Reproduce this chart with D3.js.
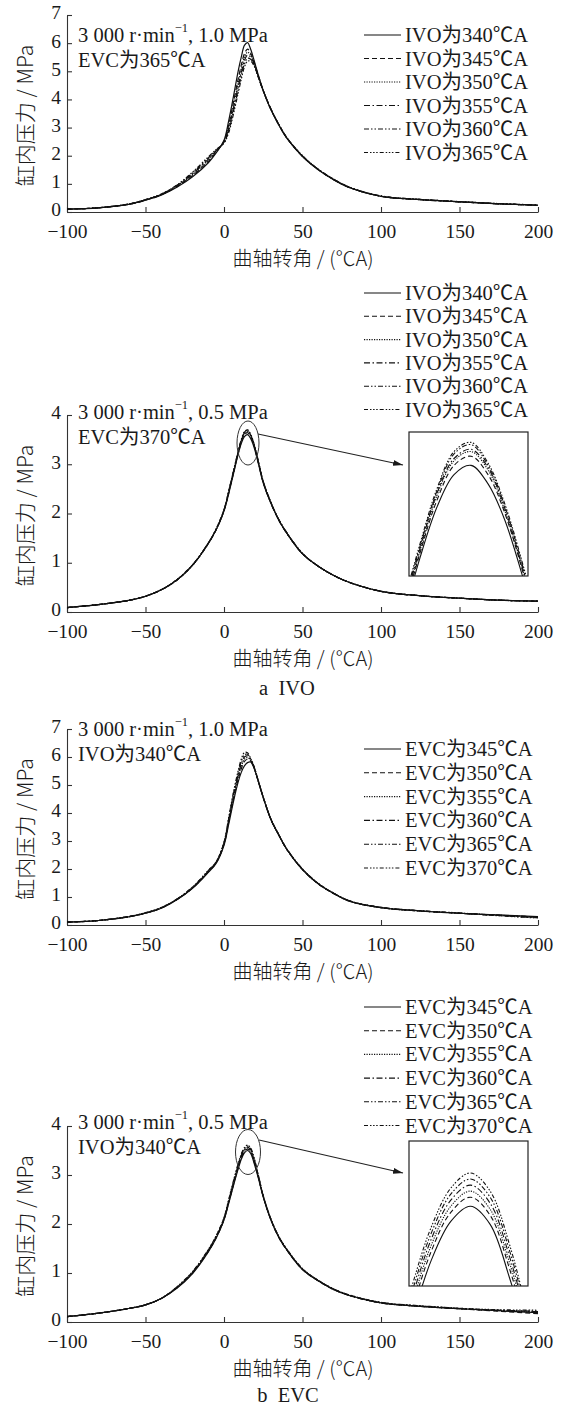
<!DOCTYPE html>
<html><head><meta charset="utf-8">
<script src="https://cdn.jsdelivr.net/npm/d3@7"></script>
<style>
html,body{margin:0;padding:0;background:#fff;}
svg{display:block;}
text{font-family:"Liberation Serif","Noto Sans CJK SC",serif;fill:#1a1a1a;}
</style></head><body>
<svg id="chart" width="562" height="1411"></svg>
<script>
// Crank angle grid (°CA) shared by every pressure trace
const crankAngle = [-100,-80,-60,-50,-40,-30,-20,-10,-5,0,3,6,9,11,13,15,17,19,22,25,30,35,40,50,60,70,80,100,125,150,175,200];

// (a) IVO sweep, 3000 r/min, 1.0 MPa, EVC = 365°CA
const ivoHigh340 = [0.10,0.15,0.28,0.42,0.60,0.88,1.25,1.75,2.10,2.55,3.25,4.10,5.00,5.50,5.92,6.02,5.78,5.42,4.84,4.32,3.62,3.08,2.62,1.97,1.50,1.14,0.86,0.55,0.44,0.36,0.29,0.24];
const ivoHigh345 = [0.10,0.15,0.28,0.42,0.61,0.90,1.30,1.80,2.13,2.52,3.10,3.90,4.72,5.22,5.62,5.79,5.64,5.35,4.82,4.32,3.63,3.09,2.63,1.98,1.51,1.15,0.87,0.56,0.44,0.36,0.29,0.24];
const ivoHigh350 = [0.10,0.15,0.28,0.43,0.62,0.92,1.33,1.84,2.16,2.50,3.02,3.78,4.58,5.08,5.50,5.68,5.57,5.31,4.80,4.31,3.63,3.09,2.63,1.98,1.51,1.15,0.87,0.56,0.44,0.36,0.29,0.24];
const ivoHigh355 = [0.10,0.15,0.29,0.43,0.62,0.93,1.36,1.88,2.18,2.48,2.95,3.68,4.45,4.95,5.38,5.58,5.51,5.28,4.79,4.31,3.64,3.10,2.64,1.99,1.51,1.15,0.87,0.56,0.44,0.36,0.29,0.24];
const ivoHigh360 = [0.10,0.15,0.29,0.44,0.63,0.95,1.39,1.92,2.20,2.47,2.88,3.58,4.33,4.83,5.26,5.46,5.43,5.24,4.77,4.30,3.64,3.10,2.64,1.99,1.52,1.16,0.88,0.57,0.45,0.37,0.30,0.24];
const ivoHigh365 = [0.10,0.15,0.29,0.44,0.64,0.96,1.42,1.96,2.22,2.45,2.82,3.48,4.22,4.72,5.15,5.36,5.36,5.21,4.76,4.30,3.65,3.11,2.65,2.00,1.52,1.16,0.88,0.57,0.45,0.37,0.30,0.25];

// (a) IVO sweep, 3000 r/min, 0.5 MPa, EVC = 370°CA
const ivoLow340 = [0.09,0.15,0.24,0.32,0.45,0.65,0.95,1.39,1.67,2.05,2.40,2.80,3.20,3.42,3.56,3.60,3.52,3.36,3.00,2.62,2.20,1.86,1.60,1.18,0.93,0.74,0.60,0.42,0.33,0.28,0.24,0.22];
const ivoLow345 = [0.09,0.15,0.24,0.32,0.45,0.65,0.95,1.39,1.67,2.06,2.42,2.82,3.22,3.45,3.60,3.64,3.56,3.39,3.02,2.63,2.20,1.86,1.60,1.18,0.93,0.74,0.60,0.42,0.33,0.28,0.24,0.22];
const ivoLow350 = [0.09,0.15,0.24,0.32,0.45,0.65,0.95,1.39,1.67,2.06,2.43,2.83,3.23,3.47,3.62,3.66,3.58,3.40,3.03,2.64,2.21,1.86,1.60,1.18,0.93,0.74,0.60,0.42,0.33,0.28,0.24,0.22];
const ivoLow355 = [0.09,0.15,0.24,0.32,0.45,0.65,0.95,1.40,1.68,2.07,2.44,2.84,3.24,3.48,3.63,3.67,3.59,3.41,3.03,2.64,2.21,1.87,1.60,1.18,0.93,0.74,0.60,0.42,0.33,0.28,0.24,0.22];
const ivoLow360 = [0.09,0.15,0.24,0.32,0.45,0.65,0.96,1.40,1.68,2.07,2.45,2.85,3.25,3.49,3.65,3.69,3.60,3.42,3.04,2.65,2.21,1.87,1.61,1.19,0.93,0.74,0.60,0.42,0.33,0.28,0.24,0.22];
const ivoLow365 = [0.09,0.15,0.24,0.32,0.45,0.66,0.96,1.40,1.69,2.08,2.46,2.86,3.26,3.50,3.66,3.70,3.61,3.43,3.05,2.65,2.22,1.87,1.61,1.19,0.93,0.74,0.60,0.42,0.33,0.28,0.24,0.22];

// (b) EVC sweep, 3000 r/min, 1.0 MPa, IVO = 340°CA
const evcHigh345 = [0.10,0.16,0.30,0.42,0.60,0.90,1.31,1.88,2.20,2.85,3.60,4.40,5.10,5.45,5.68,5.80,5.82,5.62,5.10,4.55,3.75,3.20,2.70,1.98,1.47,1.12,0.85,0.62,0.50,0.42,0.36,0.30];
const evcHigh350 = [0.10,0.16,0.30,0.42,0.60,0.91,1.32,1.90,2.22,2.88,3.68,4.50,5.20,5.58,5.84,5.92,5.85,5.64,5.10,4.55,3.75,3.20,2.70,1.98,1.47,1.12,0.85,0.62,0.50,0.42,0.35,0.29];
const evcHigh355 = [0.10,0.16,0.30,0.43,0.61,0.91,1.33,1.91,2.23,2.90,3.72,4.56,5.28,5.66,5.92,5.98,5.88,5.65,5.11,4.55,3.76,3.20,2.70,1.98,1.47,1.12,0.85,0.62,0.50,0.42,0.35,0.28];
const evcHigh360 = [0.10,0.16,0.30,0.43,0.61,0.92,1.34,1.92,2.24,2.92,3.76,4.62,5.35,5.75,6.00,6.04,5.90,5.66,5.11,4.56,3.76,3.21,2.71,1.99,1.48,1.13,0.86,0.62,0.50,0.42,0.34,0.27];
const evcHigh365 = [0.10,0.16,0.31,0.43,0.62,0.92,1.35,1.94,2.25,2.94,3.80,4.68,5.42,5.84,6.08,6.10,5.92,5.67,5.12,4.56,3.77,3.21,2.71,1.99,1.48,1.13,0.86,0.63,0.51,0.42,0.34,0.26];
const evcHigh370 = [0.10,0.16,0.31,0.44,0.62,0.93,1.36,1.95,2.26,2.96,3.84,4.74,5.50,5.92,6.16,6.15,5.95,5.68,5.12,4.57,3.77,3.22,2.72,2.00,1.49,1.13,0.86,0.63,0.51,0.43,0.33,0.25];

// (b) EVC sweep, 3000 r/min, 0.5 MPa, IVO = 340°CA
const evcLow345 = [0.11,0.18,0.28,0.35,0.48,0.69,0.99,1.43,1.71,2.08,2.42,2.78,3.12,3.32,3.45,3.50,3.44,3.26,2.92,2.55,2.07,1.72,1.47,1.07,0.84,0.66,0.54,0.39,0.32,0.27,0.23,0.19];
const evcLow350 = [0.11,0.18,0.28,0.35,0.48,0.70,1.00,1.44,1.72,2.09,2.44,2.80,3.15,3.35,3.48,3.53,3.47,3.29,2.94,2.56,2.08,1.72,1.47,1.07,0.84,0.66,0.54,0.39,0.32,0.27,0.22,0.17];
const evcLow355 = [0.11,0.18,0.28,0.35,0.48,0.70,1.01,1.45,1.73,2.10,2.45,2.82,3.17,3.37,3.50,3.55,3.49,3.31,2.95,2.56,2.08,1.73,1.48,1.08,0.84,0.66,0.54,0.39,0.32,0.27,0.23,0.20];
const evcLow360 = [0.11,0.18,0.28,0.35,0.48,0.71,1.02,1.46,1.74,2.11,2.47,2.84,3.19,3.39,3.52,3.57,3.51,3.33,2.96,2.57,2.08,1.73,1.48,1.08,0.85,0.67,0.54,0.39,0.32,0.27,0.24,0.21];
const evcLow365 = [0.11,0.18,0.28,0.35,0.48,0.71,1.02,1.47,1.75,2.12,2.48,2.86,3.21,3.41,3.54,3.59,3.53,3.35,2.97,2.57,2.09,1.74,1.48,1.08,0.85,0.67,0.55,0.40,0.33,0.28,0.24,0.22];
const evcLow370 = [0.11,0.18,0.28,0.35,0.48,0.72,1.03,1.48,1.76,2.13,2.50,2.88,3.23,3.43,3.56,3.61,3.55,3.37,2.98,2.58,2.09,1.74,1.49,1.09,0.85,0.67,0.55,0.40,0.33,0.28,0.25,0.24];

// Legend entries and tick labels
const ivoLabels = ["IVO为340℃A","IVO为345℃A","IVO为350℃A","IVO为355℃A","IVO为360℃A","IVO为365℃A"];
const evcLabels = ["EVC为345℃A","EVC为350℃A","EVC为355℃A","EVC为360℃A","EVC为365℃A","EVC为370℃A"];
const xTicks = [-100,-50,0,50,100,150,200];
const yTicksHigh = [0,1,2,3,4,5,6,7];
const yTicksLow = [0,1,2,3,4];

// Line styles: solid, dashed, dotted, dash-dot, dash-dot-dot, dash-dot-dot-dot
const dashes = [null, "5,3", "1.2,1.3", "6,2.5,1.5,2.5", "5,2,1.5,2,1.5,2", "4,2,1.5,1.6,1.5,1.6,1.5,2"];

const svg = d3.select("#chart");
const defs = svg.append("defs");
defs.append("marker").attr("id","arrowHead")
  .attr("viewBox","0 0 10 6").attr("refX",10).attr("refY",3)
  .attr("markerWidth",10).attr("markerHeight",6).attr("markerUnits","userSpaceOnUse")
  .attr("orient","auto")
  .append("path").attr("d","M0,0L10,3L0,6Z").attr("fill","#1a1a1a");

const x = d3.scaleLinear().domain([-100,200]).range([67,538]);

const panels = [
  {series:[ivoHigh340,ivoHigh345,ivoHigh350,ivoHigh355,ivoHigh360,ivoHigh365], labels:ivoLabels,
   yTicks:yTicksHigh, top:15, bottom:212, load:"1.0 MPa", fixed:"EVC为365℃A", noteY:35,
   legendY:35, legendStep:23.5, inset:null},
  {series:[ivoLow340,ivoLow345,ivoLow350,ivoLow355,ivoLow360,ivoLow365], labels:ivoLabels,
   yTicks:yTicksLow, top:415, bottom:612, load:"0.5 MPa", fixed:"EVC为370℃A", noteY:412,
   legendY:293, legendStep:23.3,
   inset:{box:[409,432,528,576], xd:[7.7,21.7], yd:[3.12,3.745], ell:[248,443,11,22], arrow:[258,434,403,465]}},
  {series:[evcHigh345,evcHigh350,evcHigh355,evcHigh360,evcHigh365,evcHigh370], labels:evcLabels,
   yTicks:yTicksHigh, top:729, bottom:925, load:"1.0 MPa", fixed:"IVO为340℃A", noteY:729,
   legendY:749, legendStep:23.8, inset:null},
  {series:[evcLow345,evcLow350,evcLow355,evcLow360,evcLow365,evcLow370], labels:evcLabels,
   yTicks:yTicksLow, top:1126, bottom:1322, load:"0.5 MPa", fixed:"IVO为340℃A", noteY:1122,
   legendY:1007, legendStep:23.7,
   inset:{box:[409,1141,528,1286], xd:[8.75,20.85], yd:[3.236,3.716], ell:[248,1152,12.5,22.5], arrow:[259,1140,403,1173]}}
];

const curve = d3.curveCatmullRom.alpha(0.5);
const textSize = "20.5px";

panels.forEach((p, pi) => {
  const yMax = p.yTicks[p.yTicks.length-1];
  const y = d3.scaleLinear().domain([0,yMax]).range([p.bottom,p.top]);
  const g = svg.append("g");

  // axes with inward ticks
  const xa = g.append("g").attr("transform",`translate(0,${p.bottom})`)
    .call(d3.axisBottom(x).tickValues(xTicks).tickSizeInner(-5).tickSizeOuter(0).tickPadding(12));
  const ya = g.append("g").attr("transform",`translate(${x.range()[0]},0)`)
    .call(d3.axisLeft(y).tickValues(p.yTicks).tickSizeInner(-5).tickSizeOuter(0).tickPadding(6).tickFormat(d3.format("d")));
  [xa,ya].forEach(a => {
    a.attr("font-family",null).attr("font-size",null);
    a.selectAll("path,line").attr("stroke","#333").attr("stroke-width",1.1);
    a.selectAll("text").style("font-size","19.5px").attr("fill","#1a1a1a");
  });
  ya.selectAll("text").attr("dy","0.2em");

  // axis titles
  g.append("text").attr("x",303).attr("y",p.bottom+45).attr("text-anchor","middle")
    .attr("dominant-baseline","central").style("font-size","20px")
    .style("font-family","'Noto Sans CJK SC',sans-serif").style("font-weight","300")
    .text("曲轴转角 / (℃A)");
  g.append("text").attr("transform",`translate(24,${(p.top+p.bottom)/2+2}) rotate(-90)`)
    .attr("text-anchor","middle").attr("dominant-baseline","central").style("font-size","21px")
    .style("font-family","'Noto Sans CJK SC',sans-serif").style("font-weight","300")
    .text("缸内压力 / MPa");

  // operating-point notes
  const n1 = g.append("text").attr("x",78).attr("y",p.noteY).attr("dominant-baseline","central").style("font-size",textSize);
  n1.append("tspan").text("3 000 r·min");
  n1.append("tspan").attr("dy",-7).style("font-size","12.5px").text("−1");
  n1.append("tspan").attr("dy",7).text(", " + p.load);
  g.append("text").attr("x",78).attr("y",p.noteY+25).attr("dominant-baseline","central")
    .style("font-size",textSize).text(p.fixed);

  // pressure traces
  const line = d3.line().x((d,i)=>x(crankAngle[i])).y(d=>y(d)).curve(curve);
  p.series.forEach((s, si) => {
    g.append("path").datum(s).attr("d",line).attr("fill","none")
      .attr("stroke","#111").attr("stroke-width",1.2)
      .attr("stroke-dasharray",dashes[si]);
  });

  // legend
  p.labels.forEach((lab, li) => {
    const ly = p.legendY + li*p.legendStep;
    g.append("line").attr("x1",364).attr("x2",401).attr("y1",ly).attr("y2",ly)
      .attr("stroke","#111").attr("stroke-width",1.1).attr("stroke-dasharray",dashes[li]);
    g.append("text").attr("x",405).attr("y",ly).attr("dominant-baseline","central")
      .style("font-size",textSize).text(lab);
  });

  // magnified view of the peak
  if (p.inset) {
    const b = p.inset.box;
    const e = p.inset.ell;
    g.append("ellipse").attr("cx",e[0]).attr("cy",e[1]).attr("rx",e[2]).attr("ry",e[3])
      .attr("fill","none").attr("stroke","#333").attr("stroke-width",1);
    const a = p.inset.arrow;
    g.append("line").attr("x1",a[0]).attr("y1",a[1]).attr("x2",a[2]).attr("y2",a[3])
      .attr("stroke","#222").attr("stroke-width",1.1).attr("marker-end","url(#arrowHead)");
    const cid = "insetClip" + pi;
    defs.append("clipPath").attr("id",cid).append("rect")
      .attr("x",b[0]).attr("y",b[1]).attr("width",b[2]-b[0]).attr("height",b[3]-b[1]);
    const ix = d3.scaleLinear().domain(p.inset.xd).range([b[0],b[2]]);
    const iy = d3.scaleLinear().domain(p.inset.yd).range([b[3],b[1]]);
    const iline = d3.line().x((d,i)=>ix(crankAngle[i])).y(d=>iy(d)).curve(curve);
    const ig = g.append("g").attr("clip-path",`url(#${cid})`);
    p.series.forEach((s, si) => {
      ig.append("path").datum(s).attr("d",iline).attr("fill","none")
        .attr("stroke","#111").attr("stroke-width",1.1)
        .attr("stroke-dasharray",dashes[si]);
    });
    g.append("rect").attr("x",b[0]).attr("y",b[1]).attr("width",b[2]-b[0]).attr("height",b[3]-b[1])
      .attr("fill","none").attr("stroke","#222").attr("stroke-width",1.2);
  }
});

// sub-figure captions
svg.append("text").attr("x",287).attr("y",688).attr("text-anchor","middle").attr("dominant-baseline","central")
  .style("font-size",textSize).attr("xml:space","preserve").text("a  IVO");
svg.append("text").attr("x",288).attr("y",1395).attr("text-anchor","middle").attr("dominant-baseline","central")
  .style("font-size",textSize).attr("xml:space","preserve").text("b  EVC");
</script>
</body></html>
